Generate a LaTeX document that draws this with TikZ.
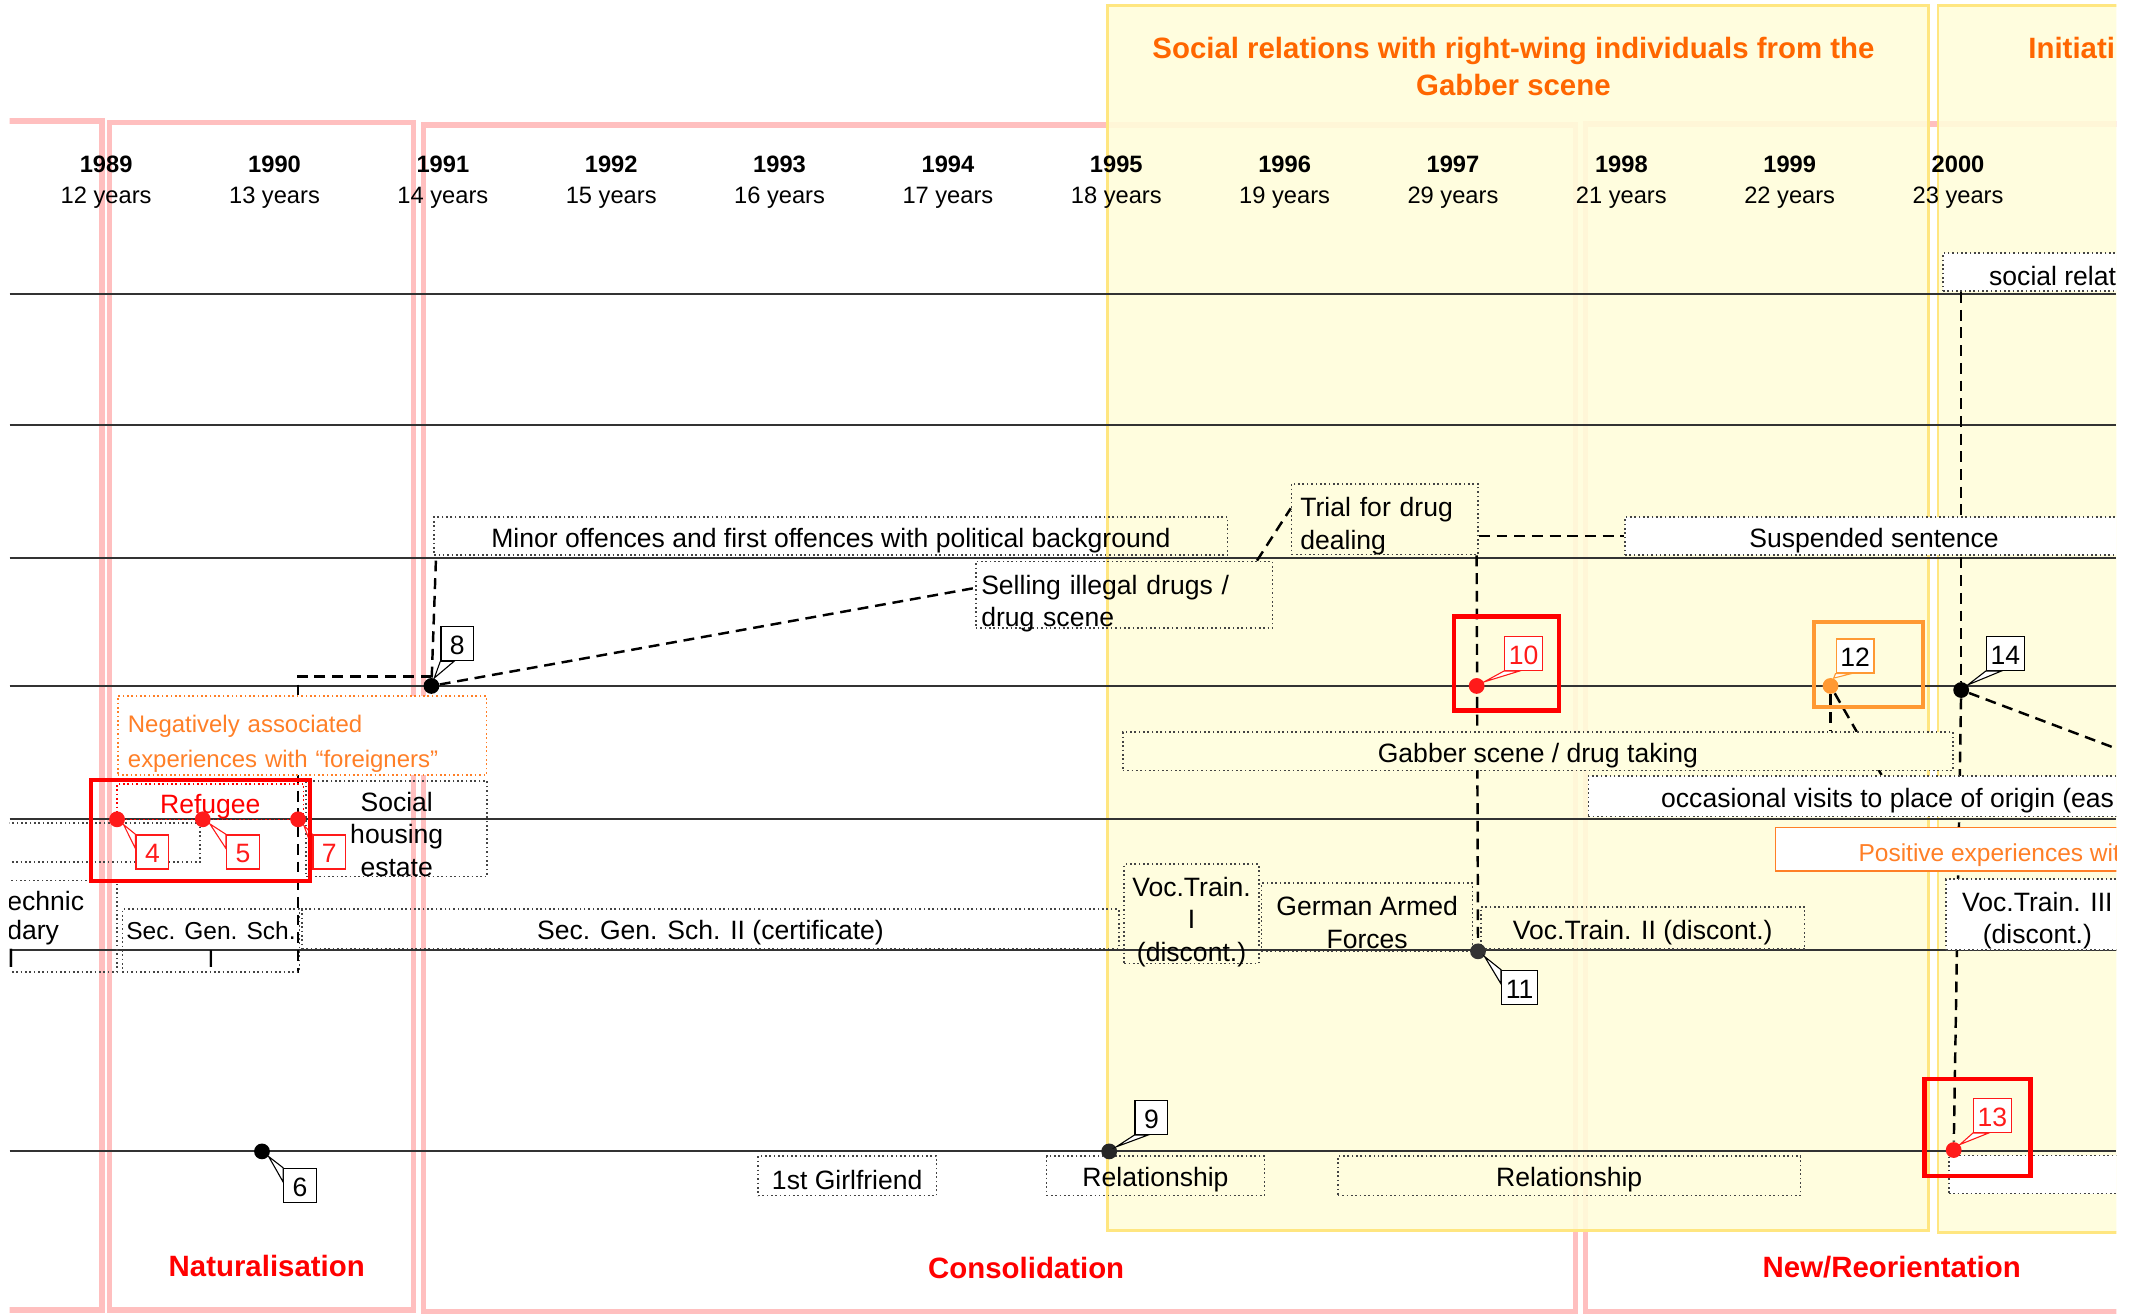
\documentclass[tikz,border=0pt]{standalone}
\usepackage{fontspec}
\setmainfont{Liberation Sans}
\usetikzlibrary{calc,positioning}
\definecolor{rowgray}{HTML}{333333}
\definecolor{phasepink}{HTML}{FFBFBF}
\definecolor{periodfill}{HTML}{FFFDDA}
\definecolor{gabberfill}{HTML}{FFFEE0}
\definecolor{periodedge}{HTML}{FFE680}
\definecolor{boxgray}{HTML}{444444}
\definecolor{titleorange}{HTML}{FF6600}
\definecolor{negorange}{HTML}{FF7F27}
\definecolor{focusorange}{HTML}{FF9933}
\definecolor{phasered}{HTML}{FF0000}
\definecolor{evred}{HTML}{FF1A1A}
\newcommand{\evfont}{\fontsize{9.75}{12}\selectfont}
\newcommand{\tightfont}{\fontsize{9.75}{10.5}\selectfont}
\newcommand{\schfont}{\fontsize{9}{10}\selectfont}
\newcommand{\negfont}{\fontsize{8.8}{13}\selectfont}
\newcommand{\posfont}{\fontsize{9}{11}\selectfont}
\newcommand{\yearfont}{\fontsize{8.7}{10.4}\selectfont}
\newcommand{\headfont}{\fontsize{10.8}{13.5}\selectfont}
\newcommand{\viewclip}{\clip (7,0) rectangle (1555,965);}
\newcommand{\tagup}[3]{\filldraw[draw=#3, fill=white, line width=0.4pt] (#1) -- (#2.south west) -- ($(#2.south west)!0.4!(#2.south east)$) -- cycle;}
\newcommand{\tagdown}[3]{\filldraw[draw=#3, fill=white, line width=0.4pt] (#1) -- (#2.north west) -- ($(#2.north west)!0.4!(#2.south west)$) -- cycle;}
\pgfdeclarelayer{back}
\pgfdeclarelayer{links}
\pgfsetlayers{back,links,main}
\tikzset{
  rowline/.style={draw=rowgray, line width=0.75pt},
  phaseframe/.style={draw=phasepink, line width=2pt},
  periodbox/.style={draw=periodedge, line width=1pt, fill=periodfill, fill opacity=0.9},
  evbox/.style={draw=boxgray, densely dotted, line width=0.6pt, inner sep=0pt, align=center, font=\evfont, text height=10pt},
  lowered/.style={text height=#1, text depth=0pt},
  topset/.style={text height=8pt, text depth=#1},
  evdot/.style={circle, fill=black, inner sep=0pt, minimum size=5.8pt},
  numbox/.style={draw=black, fill=white, line width=0.5pt, inner xsep=1.5pt, inner ysep=0pt, minimum width=12pt, minimum height=12.5pt, font=\evfont, text height=8pt},
  link/.style={line width=0.9pt, dash pattern=on 4pt off 2.5pt},
  focusbox/.style={line width=1.6pt},
  yearlab/.style={font=\yearfont\bfseries},
  agelab/.style={font=\yearfont},
  headlab/.style={font=\headfont\bfseries, text=titleorange, align=center},
  phaselab/.style={font=\headfont\bfseries, text=phasered}
}
\begin{document}
\begin{tikzpicture}[x=0.5pt,y=-0.5pt]
\useasboundingbox (0,0) rectangle (1568,965);
\begin{pgfonlayer}{back}
\begin{scope}
\viewclip
\draw[phaseframe] (-20,89) rectangle (75,962.5);
\draw[phaseframe] (80.5,90) rectangle (304,962.5);
\draw[phaseframe] (311,92) rectangle (1157.5,963.5);
\draw[phaseframe] (1165,91) rectangle (1600,963.5);
\draw[periodbox] (814,4) rectangle (1417,904);
\draw[periodbox] (1424,4) rectangle (1600,905.5);
\foreach \r in {216,312,410,504,602,698,846}
  \draw[rowline] (7,\r) -- (1555,\r);
\end{scope}
\end{pgfonlayer}
\begin{scope}
\viewclip
% time axis
\foreach \yr/\age [count=\i from 0] in {1989/12,1990/13,1991/14,1992/15,1993/16,1994/17,1995/18,1996/19,1997/29,1998/21,1999/22,2000/23} {
  \node[yearlab] (yr\yr) at ({78+123.7*\i},120.5) {\yr};
  \node[agelab] (age\yr) at ({78+123.7*\i},145) {\age\ years};
}
\node[headlab] (gabtitle) at (1112,49) {Social relations with right-wing individuals from the\\Gabber scene};
\node[headlab, anchor=west, inner sep=0pt] (inititle) at (1490,35) {Initiati};
\node[phaselab] (natur) at (196,930) {Naturalisation};
\node[phaselab] (consol) at (754,932) {Consolidation};
\node[phaselab] (reori) at (1390,931) {New/Reorientation};
% episodes
\node[evbox, fill=white, anchor=west, minimum height=14pt, inner xsep=17pt] (relat) at (1427,200) {social relat};
\node[evbox, minimum width=291.5pt, minimum height=14pt] (minor) at (610.5,394) {Minor offences and first offences with political background};
\node[evbox, topset=10.1pt, minimum width=68.5pt, minimum height=26pt, text width=62pt, align=left] (trial) at (1017.5,381.5) {Trial for drug\\dealing};
\node[evbox, fill=white, minimum width=183pt, minimum height=14pt] (susp) at (1377,394) {Suspended sentence};
\node[evbox, topset=8.45pt, minimum width=109pt, minimum height=24.5pt, text width=105pt, align=left] (selling) at (826,437) {Selling illegal drugs /\\drug scene};
\node[evbox, draw=negorange, fill=white, text=negorange, font=\negfont, topset=10.4pt, minimum width=135.5pt, minimum height=29pt, text width=128pt, align=left] (neg) at (222,540.5) {Negatively associated\\experiences with “foreigners”};
\node[evbox, fill=gabberfill, minimum width=305pt, minimum height=14pt] (gabber) at (1130,552) {Gabber scene / drug taking};
\node[evbox, draw=phasered, text=phasered, text height=11pt, minimum width=68.5pt, minimum height=13pt] (refugee) at (154.5,589) {Refugee};
\node[evbox, lowered=35pt, minimum width=66.5pt, minimum height=35pt] (housing) at (291.5,609) {Social\\housing\\estate};
\node[evbox, fill=white, anchor=west, minimum height=15pt, inner xsep=26.75pt] (visits) at (1166.5,585) {occasional visits to place of origin (eas};
\node[evbox, minimum width=83.5pt, minimum height=14.5pt] (blankleft) at (63.5,619) {};
\node[evbox, minimum width=53pt, minimum height=33.5pt] (polybox) at (33,680.5) {};
\node[anchor=west, inner sep=0pt, align=left, font=\tightfont] (polytext) at (5,683) {echnic\\dary\\I};
\node[evbox, font=\schfont, lowered=19.6pt, minimum width=65pt, minimum height=23pt] (secI) at (155,691) {Sec. Gen. Sch.\\I};
\node[evbox, minimum width=300pt, minimum height=14.5pt] (secII) at (522,682.5) {Sec. Gen. Sch. II (certificate)};
\node[evbox, lowered=35pt, minimum width=49.5pt, minimum height=36.5pt] (vocI) at (875.5,671.5) {Voc.Train.\\I\\(discont.)};
\node[evbox, lowered=22.6pt, minimum width=77.5pt, minimum height=25pt] (armed) at (1004.5,674) {German Armed\\Forces};
\node[evbox, minimum width=119pt, minimum height=15.5pt] (vocII) at (1207,682) {Voc.Train. II (discont.)};
\node[evbox, solid, draw=negorange, fill=white, text=negorange, font=\posfont, text height=10.5pt, anchor=west, minimum height=16pt, inner xsep=30.5pt] (positive) at (1304,624) {Positive experiences wit};
\node[evbox, fill=white, lowered=21.5pt, minimum width=67pt, minimum height=26pt] (vocIII) at (1497,672) {Voc.Train. III\\(discont.)};
\node[evbox, minimum width=65.5pt, minimum height=14.5pt] (girl) at (622.5,864) {1st Girlfriend};
\node[evbox, minimum width=80pt, minimum height=14.5pt] (relA) at (849,864) {Relationship};
\node[evbox, minimum width=170pt, minimum height=14.5pt] (relB) at (1153,864) {Relationship};
\node[evbox, fill=white, minimum width=84pt, minimum height=14pt] (blankright) at (1516,863) {};
% events
\node[evdot, fill=evred] (e4) at (86,602) {};
\node[evdot, fill=evred] (e5) at (149,602) {};
\node[evdot, fill=evred] (e7) at (219,602) {};
\node[evdot] (e6) at (192.5,846) {};
\node[evdot] (e8) at (317,504) {};
\node[evdot, fill=black!85] (e9) at (815,846) {};
\node[evdot, fill=evred] (e10) at (1085,504) {};
\node[evdot, fill=black!80] (e11) at (1086,699) {};
\node[evdot, fill=focusorange] (e12) at (1345,504) {};
\node[evdot, fill=evred] (e13) at (1435.5,845) {};
\node[evdot] (e14) at (1441,507) {};
\coordinate (off14) at (1600,567);
\node[numbox, draw=evred, text=evred] (n4) at (112,626) {4};
\node[numbox, draw=evred, text=evred] (n5) at (178.5,626) {5};
\node[numbox, draw=evred, text=evred] (n7) at (242,626) {7};
\node[numbox] (n6) at (220.5,871) {6};
\node[numbox] (n8) at (336,473) {8};
\node[numbox] (n9) at (846,821) {9};
\node[numbox, draw=evred, text=evred] (n10) at (1119.5,480) {10};
\node[numbox] (n11) at (1116.5,725.5) {11};
\node[numbox, draw=focusorange] (n12) at (1363,482) {12};
\node[numbox, draw=evred, text=evred] (n13) at (1464,819.5) {13};
\node[numbox] (n14) at (1473.5,480) {14};
\tagdown{e4}{n4}{evred}
\tagdown{e5}{n5}{evred}
\tagdown{e7}{n7}{evred}
\tagdown{e6}{n6}{black}
\tagdown{e11}{n11}{black}
\tagup{e8}{n8}{black}
\tagup{e9}{n9}{black}
\tagup{e10}{n10}{evred}
\tagup{e12}{n12}{focusorange}
\tagup{e13}{n13}{evred}
\tagup{e14}{n14}{black}
% highlighted turning points
\draw[focusbox, draw=phasered] (67,573) rectangle (228,647.5);
\draw[focusbox, draw=phasered] (1068.5,453) rectangle (1145.5,522);
\draw[focusbox, draw=focusorange] (1333,457) rectangle (1413,519.5);
\draw[focusbox, draw=phasered] (1414,793) rectangle (1492,864);
\end{scope}
\begin{pgfonlayer}{links}
\begin{scope}
\viewclip
\draw[link] (e8) -- ([xshift=1pt]minor.south west);
\draw[link] (e8) -- ([yshift=2.5pt]selling.west);
\draw[link] ($(e8)+(0,-7)$) -| (e7 |- secI.south);
\draw[link] ([xshift=-6pt]selling.north east) -- ([yshift=4pt]trial.west);
\draw[link] (trial.east |- susp.west) -- (susp.west);
\draw[link] (e10 |- trial.south) -- (e11);
\draw[link] (e12) -- (e12 |- gabber.north);
\draw[link] (e12) -- ($(visits.north west)+(216,0)$);
\draw[link] (e14 |- relat.south) -- (e14);
\draw[link] (e14) -- (e13);
\draw[link] (e14) -- (off14);
\end{scope}
\end{pgfonlayer}
\end{tikzpicture}
\end{document}
